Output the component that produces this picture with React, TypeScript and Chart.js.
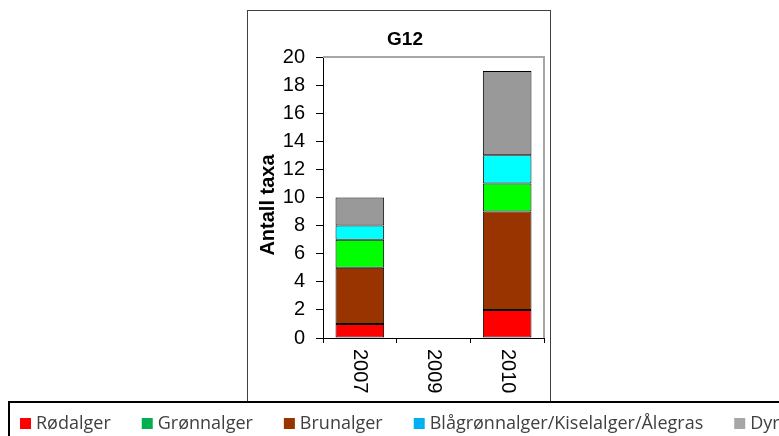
import React, { useEffect, useRef } from "react";
import { Chart, registerables } from "chart.js";

Chart.register(...registerables);

const categories = ["2007", "2009", "2010"];
const rodalger = [1, null, 2];
const brunalger = [4, null, 7];
const gronnalger = [2, null, 2];
const blagronn = [1, null, 2];
const dyr = [2, null, 6];

const chartTitle = "G12";
const yTitle = "Antall taxa";

const legendLabels = ["Rødalger", "Grønnalger", "Brunalger", "Blågrønnalger/Kiselalger/Ålegras", "Dyr"];
const legendColors = ["#FF0000", "#00B050", "#993300", "#00B0F0", "#A6A6A6"];

const FONT = "'Liberation Sans', Arial, sans-serif";

const decorPlugin = {
  id: "decor",
  beforeDatasetsDraw(chart: any) {
    const { ctx, chartArea } = chart;
    ctx.save();
    ctx.strokeStyle = "#404040";
    ctx.lineWidth = 1;
    ctx.strokeRect(247.5, 10.5, 303, 391);
    ctx.strokeStyle = "#A6A6A6";
    ctx.lineWidth = 2;
    ctx.beginPath();
    ctx.moveTo(chartArea.left, chartArea.top);
    ctx.lineTo(chartArea.right, chartArea.top);
    ctx.lineTo(chartArea.right, chartArea.bottom);
    ctx.stroke();
    ctx.restore();
  },
  afterDraw(chart: any) {
    const { ctx, chartArea } = chart;
    const xs = chart.scales.x;
    ctx.save();
    ctx.fillStyle = "#000";
    ctx.font = `bold 19px ${FONT}`;
    ctx.textAlign = "center";
    ctx.textBaseline = "middle";
    ctx.fillText(chartTitle, 405, 40);
    ctx.save();
    ctx.translate(268, 205);
    ctx.rotate(-Math.PI / 2);
    ctx.font = `bold 20px ${FONT}`;
    ctx.fillText(yTitle, 0, 0);
    ctx.restore();
    ctx.font = `20px ${FONT}`;
    categories.forEach((c, i) => {
      const px = xs.getPixelForValue(i);
      ctx.save();
      ctx.translate(px, chartArea.bottom + 11);
      ctx.rotate(Math.PI / 2);
      ctx.textAlign = "left";
      ctx.textBaseline = "middle";
      ctx.fillText(c, 0, 0);
      ctx.restore();
    });
    ctx.fillStyle = "#fff";
    ctx.fillRect(9, 402, 780, 40);
    ctx.strokeStyle = "#000";
    ctx.lineWidth = 2;
    ctx.strokeRect(9, 402, 790, 50);
    ctx.font = `18px 'Open Sans', ${FONT}`;
    ctx.textAlign = "left";
    ctx.textBaseline = "middle";
    let x = 20;
    legendLabels.forEach((l, i) => {
      ctx.fillStyle = legendColors[i];
      ctx.fillRect(x, 418, 11, 11);
      ctx.fillStyle = "#404040";
      ctx.fillText(l, x + 16, 424);
      x += 16 + ctx.measureText(l).width + 31;
    });
    ctx.restore();
  },
};

export default function App() {
  const ref = useRef<HTMLCanvasElement>(null);
  useEffect(() => {
    const barOpts = { borderColor: "#000", borderWidth: 1, borderSkipped: false, barPercentage: 0.66, categoryPercentage: 1 };
    const chart = new Chart(ref.current!, {
      type: "bar",
      data: {
        labels: categories,
        datasets: [
          { label: legendLabels[0], data: rodalger, backgroundColor: "#FF0000", ...barOpts },
          { label: legendLabels[2], data: brunalger, backgroundColor: "#993300", ...barOpts },
          { label: legendLabels[1], data: gronnalger, backgroundColor: "#00FF00", ...barOpts },
          { label: legendLabels[3], data: blagronn, backgroundColor: "#00FFFF", ...barOpts },
          { label: legendLabels[4], data: dyr, backgroundColor: "#999999", ...barOpts },
        ] as any,
      },
      options: {
        responsive: false,
        animation: false,
        layout: { padding: { left: 250, right: 779 - 544, top: 57, bottom: 0 } },
        plugins: { legend: { display: false }, tooltip: { enabled: false }, title: { display: false } },
        scales: {
          x: {
            stacked: true,
            offset: true,
            grid: { drawOnChartArea: false, drawTicks: true, tickLength: 5, offset: true, color: "#000" },
            border: { color: "#000", width: 1 },
            ticks: { display: false },
            afterFit: (s: any) => { s.height = 436 - 338; },
          },
          y: {
            stacked: true,
            min: 0,
            max: 20,
            ticks: { stepSize: 2, color: "#000", font: { size: 20, family: FONT }, padding: 11 },
            grid: { drawOnChartArea: false, drawTicks: true, tickLength: 7, color: "#000" },
            border: { color: "#000", width: 1 },
            afterFit: (s: any) => { s.width = 73; },
          },
        },
      },
      plugins: [decorPlugin],
    });
    return () => chart.destroy();
  }, []);
  return (
    <div style={{ position: "absolute", left: 0, top: 0, width: 779, height: 436, background: "#fff" }}>
      <canvas ref={ref} width={779} height={436} style={{ width: 779, height: 436 }} />
    </div>
  );
}
